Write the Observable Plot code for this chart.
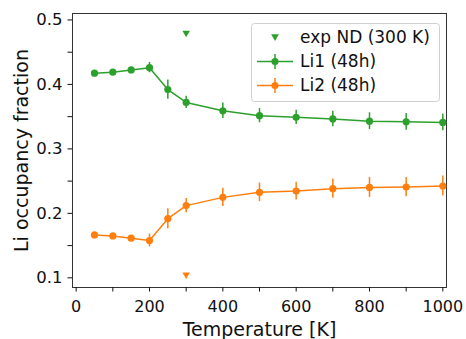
<!DOCTYPE html>
<html><head>
<meta charset="utf-8">
<script src="https://cdn.jsdelivr.net/npm/d3@7"></script>
<script src="https://cdn.jsdelivr.net/npm/@observablehq/plot@0.6"></script>
<style>
body{margin:0;background:#fff;}
#wrap{position:relative;width:466px;height:339px;font-family:"DejaVu Sans",sans-serif;}
#wrap svg.plot text{font-family:"DejaVu Sans",sans-serif;}
#legend{position:absolute;left:0;top:0;pointer-events:none;}
</style>
</head><body><div id="wrap"></div>
<script>
const temps = [50,100,150,200,250,300,400,500,600,700,800,900,1000];
const li1 =    [0.4175,0.419,0.4225,0.426,0.392,0.372,0.359,0.3515,0.349,0.3465,0.343,0.342,0.341];
const li1Err = [0.003,0.003,0.003,0.008,0.015,0.0095,0.012,0.011,0.011,0.012,0.013,0.013,0.013];
const li2 =    [0.1665,0.165,0.1615,0.1578,0.1918,0.212,0.2248,0.2326,0.2346,0.2383,0.2403,0.2408,0.2423];
const li2Err = [0.002,0.002,0.002,0.010,0.0155,0.011,0.014,0.0145,0.0137,0.015,0.0155,0.015,0.0155];
const expT = [300, 300];
const expVal = [0.480, 0.105];
const expSeries = ["Li1", "Li2"];
const expLabel = "exp ND (300 K)";
const seriesNames = ["Li1 (48h)", "Li2 (48h)"];
const colors = {Li1: "#2ca02c", Li2: "#ff7f0e"};
const xTicks = [0,100,200,300,400,500,600,700,800,900,1000];
const yTicks = [0.1,0.15,0.2,0.25,0.3,0.35,0.4,0.45,0.5];
const xLabel = "Temperature [K]";
const yLabel = "Li occupancy fraction";

const rows = [];
temps.forEach((t,i)=>{
  rows.push({T:t, v:li1[i], e:li1Err[i], s:"Li1"});
  rows.push({T:t, v:li2[i], e:li2Err[i], s:"Li2"});
});
const exp = expT.map((t,i)=>({T:t, v:expVal[i], s:expSeries[i]}));

const plot = Plot.plot({
  width: 466, height: 339,
  marginLeft: 72, marginRight: 20, marginTop: 13, marginBottom: 52,
  className: "plot",
  style: {fontFamily: "DejaVu Sans", fontSize: "16px", color: "#111", background: "#fff"},
  x: {domain: [-10, 1010]},
  y: {domain: [0.085, 0.51]},
  marks: [
    Plot.frame({stroke: "#333", strokeWidth: 1}),
    Plot.axisX({ticks: xTicks, tickSize: 4.5, tickPadding: 9, fontSize: 16, label: null,
      tickFormat: d => d % 200 === 0 ? String(d) : ""}),
    Plot.axisY({ticks: yTicks, tickSize: 4.5, tickPadding: 5.5, fontSize: 16.5, label: null,
      tickFormat: d => Math.abs(Math.round(d*10) - d*10) < 1e-6 ? d.toFixed(1) : ""}),
    Plot.text([xLabel], {text: d => d, frameAnchor: "bottom", dy: 42, textAnchor: "middle", lineAnchor: "middle", fontSize: 19, fill: "#111"}),
    Plot.text([yLabel], {text: d => d, frameAnchor: "left", rotate: -90, dx: -51, textAnchor: "middle", lineAnchor: "middle", fontSize: 19, fill: "#111"}),
    Plot.ruleX(rows, {x: "T", y1: d => d.v - d.e, y2: d => d.v + d.e, stroke: d => colors[d.s], strokeWidth: 1.5}),
    Plot.line(rows, {x: "T", y: "v", z: "s", stroke: d => colors[d.s], strokeWidth: 1.5}),
    Plot.dot(rows, {x: "T", y: "v", r: 3.6, fill: d => colors[d.s], stroke: "none"}),
    Plot.dot(exp, {x: "T", y: "v", symbol: "triangle", rotate: 180, r: 2.8, fill: d => colors[d.s], stroke: "none"})
  ]
});
const wrap = document.getElementById("wrap");
wrap.appendChild(plot);

// legend (HTML overlay SVG)
const tri = d3.symbol(d3.symbolTriangle, 26)();
const entry = (c, cy) => `<line x1="257" x2="293" y1="${cy}" y2="${cy}" stroke="${c}" stroke-width="1.5"/>
  <line x1="275" x2="275" y1="${cy-7.5}" y2="${cy+7.5}" stroke="${c}" stroke-width="1.5"/>
  <circle cx="275" cy="${cy}" r="3.6" fill="${c}"/>`;
const lg = document.createElement("div");
lg.id = "legend";
lg.innerHTML = `<svg width="466" height="339" style="font-family:'DejaVu Sans',sans-serif;font-size:17px;">
  <rect x="251.5" y="23.5" width="188" height="78" rx="3" fill="rgba(255,255,255,0.85)" stroke="#d0d0d0"/>
  <path transform="translate(275,36.5) rotate(180)" d="${tri}" fill="${colors.Li1}"/>
  <text x="300" y="37" dy="0.35em" fill="#111">${expLabel}</text>
  ${entry(colors.Li1, 61.5)}
  <text x="300" y="61.5" dy="0.35em" fill="#111">${seriesNames[0]}</text>
  ${entry(colors.Li2, 85.5)}
  <text x="300" y="85.5" dy="0.35em" fill="#111">${seriesNames[1]}</text>
</svg>`;
wrap.appendChild(lg);
</script>
</body></html>
